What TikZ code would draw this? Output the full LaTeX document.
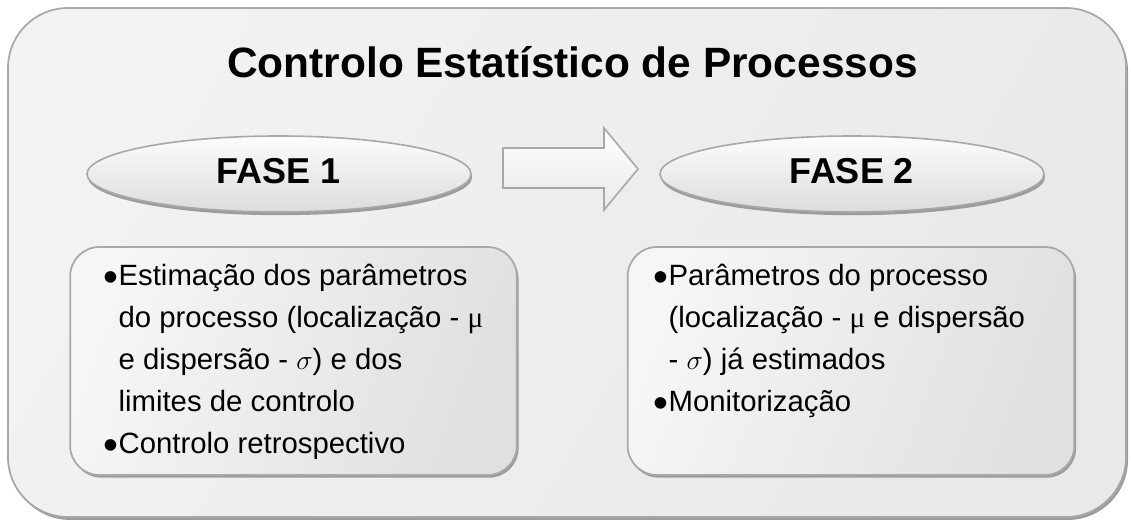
\documentclass[tikz,border=0pt]{standalone}
\usepackage{fontspec}
\setmainfont{Liberation Sans}
\newfontfamily\mufont{Liberation Serif}
\usetikzlibrary{shapes.geometric,shadows}
\definecolor{edgegray}{HTML}{A8A8A8}
\definecolor{shadowgray}{HTML}{9C9C9C}
\definecolor{outerA}{HTML}{F2F2F2}
\definecolor{outerB}{HTML}{E9E9E9}
\definecolor{boxA}{HTML}{F6F6F6}
\definecolor{boxB}{HTML}{E0E0E0}
\definecolor{ellA}{HTML}{FCFCFC}
\definecolor{ellB}{HTML}{DCDCDC}
\newcommand{\bulletmark}{\makebox[11.5pt][c]{\raisebox{-5.2pt}{\scalebox{1.45}{\textbullet}}}}
\newcommand{\muchar}{{\mufont μ}}
\begin{document}
\begin{tikzpicture}[x=0.75pt,y=-0.75pt,
  outerpanel/.style={draw=edgegray, line width=1.3pt, rounded corners=45pt,
    shading=axis, left color=outerA, right color=outerB, shading angle=60,
    minimum width=838.5pt, minimum height=381.75pt, inner sep=0pt,
    general shadow={shadow xshift=1.5pt, shadow yshift=-2.2pt, fill=shadowgray}},
  phasebox/.style={draw=edgegray, line width=1.3pt, rounded corners=22pt,
    shading=axis, left color=boxA, right color=boxB, shading angle=70,
    minimum width=335pt, minimum height=171pt, inner sep=0pt,
    general shadow={shadow xshift=1.3pt, shadow yshift=-2pt, fill=shadowgray}},
  phaseell/.style={ellipse, draw=edgegray, line width=1.2pt,
    shading=axis, top color=ellA, bottom color=ellB,
    minimum width=288pt, minimum height=57pt, inner sep=0pt, text depth=5pt,
    font=\fontsize{27pt}{32pt}\selectfont\bfseries,
    general shadow={shadow xshift=0.8pt, shadow yshift=-2.4pt, fill=shadowgray}},
  titletext/.style={font=\fontsize{31.8pt}{38pt}\selectfont\bfseries, inner sep=0pt},
  bodytext/.style={font=\fontsize{22pt}{31.5pt}\selectfont, inner sep=0pt, align=left},
  blockarrow/.style={draw=edgegray, line width=1.2pt, top color=white, bottom color=outerB, line join=miter},
  blockshadow/.style={fill=shadowgray, draw=none}
]
\useasboundingbox (0,0) rectangle (1131,524);

\node[outerpanel] (outer) at (567,262.5) {};

\node[titletext, anchor=base] (title) at (572.5,78) {Controlo Estatístico de Processos};

\node[phaseell] (fase1) at (279,174) {FASE 1};
\node[phaseell] (fase2) at (852,174) {FASE 2};

% block arrow between the phases
\coordinate (a1) at (503,148);
\coordinate (a2) at (604,148);
\coordinate (a3) at (604,128);
\coordinate (a4) at (638,169);
\coordinate (a5) at (604,210);
\coordinate (a6) at (604,188);
\coordinate (a7) at (503,188);
\begin{scope}[shift={(2,3)}]
  \fill[blockshadow] (a1) -- (a2) -- (a3) -- (a4) -- (a5) -- (a6) -- (a7) -- cycle;
\end{scope}
\draw[blockarrow] (a1) -- (a2) -- (a3) -- (a4) -- (a5) -- (a6) -- (a7) -- cycle;

\node[phasebox] (box1) at (293.5,361) {};
\node[phasebox] (box2) at (851,361) {};

\node[bodytext, anchor=base west] (text1) at (103,285) {%
\begin{tabular}[t]{@{}l@{}l@{}}
\bulletmark & Estimação dos parâmetros\\
 & do processo (localização - \muchar\\
 & e dispersão - $\sigma$) e dos\\
 & limites de controlo\\
\bulletmark & Controlo retrospectivo
\end{tabular}};

\node[bodytext, anchor=base west] (text2) at (653,285) {%
\begin{tabular}[t]{@{}l@{}l@{}}
\bulletmark & Parâmetros do processo\\
 & (localização - \muchar{} e dispersão\\
 & - $\sigma$) já estimados\\
\bulletmark & Monitorização
\end{tabular}};
\end{tikzpicture}
\end{document}
